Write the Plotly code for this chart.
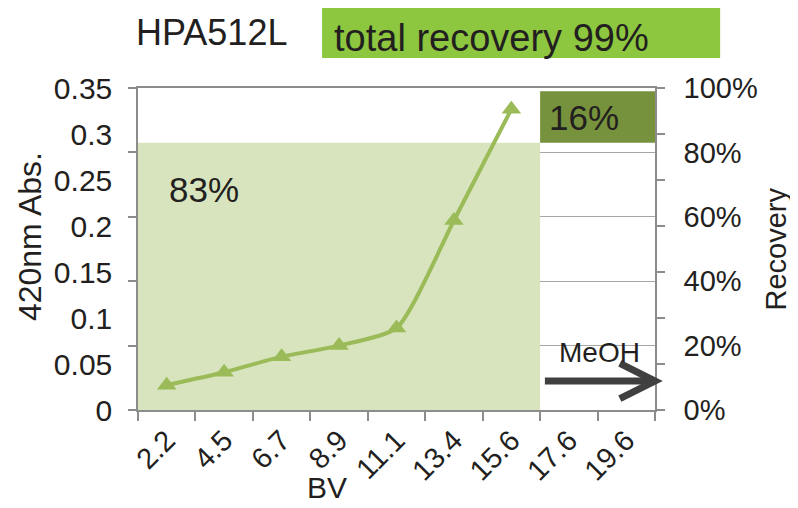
import plotly.graph_objects as go

# ---- data ----
bv_labels = ["2.2", "4.5", "6.7", "8.9", "11.1", "13.4", "15.6", "17.6", "19.6"]
abs_x = ["2.2", "4.5", "6.7", "8.9", "11.1", "13.4", "15.6"]
absorbance = [0.027, 0.041, 0.058, 0.070, 0.089, 0.206, 0.327]
recovery_water = 0.83
recovery_meoh = 0.16
recovery_total_label = "total recovery 99%"
abs_tickvals = [0, 0.05, 0.1, 0.15, 0.2, 0.25, 0.3, 0.35]
abs_ticktext = ["0", "0.05", "0.1", "0.15", "0.2", "0.25", "0.3", "0.35"]
rec_tickvals = [0, 0.2, 0.4, 0.6, 0.8, 1.0]
rec_ticktext = ["0%", "20%", "40%", "60%", "80%", "100%"]

FONT = "Liberation Sans, Arial, sans-serif"
TXT = "#231f20"
AX = "#8c8c8c"
GRID = "#a6a6a6"

fig = go.Figure()

# recovery blocks (on recovery axis y)
fig.add_trace(go.Bar(x=["8.9"], y=[recovery_water], width=[7], yaxis="y",
                     marker=dict(color="#d7e4bd", line=dict(width=0)),
                     hoverinfo="skip", showlegend=False))
fig.add_trace(go.Bar(x=["17.6"], y=[recovery_meoh], base=[recovery_water], width=[2], offset=[-0.5],
                     yaxis="y", marker=dict(color="#76923c", line=dict(width=0)),
                     hoverinfo="skip", showlegend=False))

# absorbance line (on left axis y2)
fig.add_trace(go.Scatter(x=abs_x, y=absorbance, yaxis="y2", mode="lines+markers",
                         line=dict(color="#9bbb59", width=4, shape="spline", smoothing=0.6),
                         marker=dict(symbol="triangle-up", size=17, color="#9bbb59"),
                         showlegend=False))

# page body adds an 8px offset, so the figure is 790x500 to fill 798x508
fig.update_layout(
    width=790, height=500,
    margin=dict(l=130, r=143, t=80, b=98, autoexpand=False),
    paper_bgcolor="white", plot_bgcolor="white",
    barmode="overlay",
    font=dict(family=FONT, color=TXT, size=30),
    xaxis=dict(type="category", categoryorder="array", categoryarray=bv_labels,
               tickvals=bv_labels, range=[-0.5, 8.5], tickson="boundaries",
               ticks="outside", ticklen=9, tickcolor=AX, tickwidth=1.5,
               tickangle=-45, tickfont=dict(size=29),
               showline=True, linecolor=AX, linewidth=1.5, mirror=True,
               showgrid=False, zeroline=False, automargin=False),
    yaxis=dict(side="right", range=[0, 1], tickvals=rec_tickvals, ticktext=rec_ticktext,
               ticks="outside", ticklen=21, tickcolor="rgba(0,0,0,0)",
               tickfont=dict(size=29), automargin=False,
               showgrid=True, gridcolor=GRID, gridwidth=1.2,
               showline=True, linecolor=AX, linewidth=1.5, zeroline=False),
    yaxis2=dict(overlaying="y", side="left", range=[0, 0.35],
                tickvals=abs_tickvals, ticktext=abs_ticktext,
                ticks="outside", ticklen=18, tickcolor="rgba(0,0,0,0)",
                tickfont=dict(size=30), automargin=False,
                showgrid=False, showline=True, linecolor=AX, linewidth=1.5, zeroline=False),
    yaxis3=dict(overlaying="y", side="left", range=[0, 1], tickvals=rec_tickvals,
                ticks="outside", ticklen=9, tickcolor=AX, tickwidth=1.5,
                showticklabels=False, showgrid=False, showline=False, zeroline=False),
    yaxis4=dict(overlaying="y", side="right", range=[0, 0.35], tickvals=abs_tickvals,
                ticks="outside", ticklen=9, tickcolor=AX, tickwidth=1.5,
                showticklabels=False, showgrid=False, showline=False, zeroline=False),
)

# dummy invisible traces so the tick-only axes render
fig.add_trace(go.Scatter(x=[None], y=[None], yaxis="y3", showlegend=False, hoverinfo="skip"))
fig.add_trace(go.Scatter(x=[None], y=[None], yaxis="y4", showlegend=False, hoverinfo="skip"))

# header box
fig.add_shape(type="rect", xref="paper", yref="paper", x0=0.356, x1=1.126, y0=1.093, y1=1.261,
              fillcolor="#8dc63f", line=dict(width=0), layer="below")

annos = [
    dict(text="HPA512L", x=-0.008, y=1.172, xanchor="left", yanchor="middle", font=dict(size=36)),
    dict(text=recovery_total_label, x=0.375, y=1.155, xanchor="left", yanchor="middle", font=dict(size=38)),
    dict(text="420nm Abs.", x=-0.209, y=0.54, textangle=-90, xanchor="center", yanchor="middle", font=dict(size=32)),
    dict(text="Recovery", x=1.235, y=0.50, textangle=-90, xanchor="center", yanchor="middle", font=dict(size=29)),
    dict(text="BV", x=0.366, y=-0.242, xanchor="center", yanchor="middle", font=dict(size=30)),
    dict(text=f"{round(recovery_water*100)}%", x=0.128, y=0.685, xanchor="center", yanchor="middle", font=dict(size=35)),
    dict(text=f"{round(recovery_meoh*100)}%", x=0.862, y=0.907, xanchor="center", yanchor="middle", font=dict(size=35)),
    dict(text="MeOH", x=0.893, y=0.18, xanchor="center", yanchor="middle", font=dict(size=28)),
]
for a in annos:
    fig.add_annotation(xref="paper", yref="paper", showarrow=False, **a)

# MeOH arrow
fig.add_shape(type="line", xref="paper", yref="paper", x0=0.787, x1=0.99, y0=0.09, y1=0.09,
              line=dict(color="#404040", width=7))
fig.add_shape(type="path", xref="paper", yref="paper",
              path="M 0.932,0.145 L 1.0,0.09 L 0.932,0.035",
              line=dict(color="#404040", width=7))

fig.write_html("out.html")
